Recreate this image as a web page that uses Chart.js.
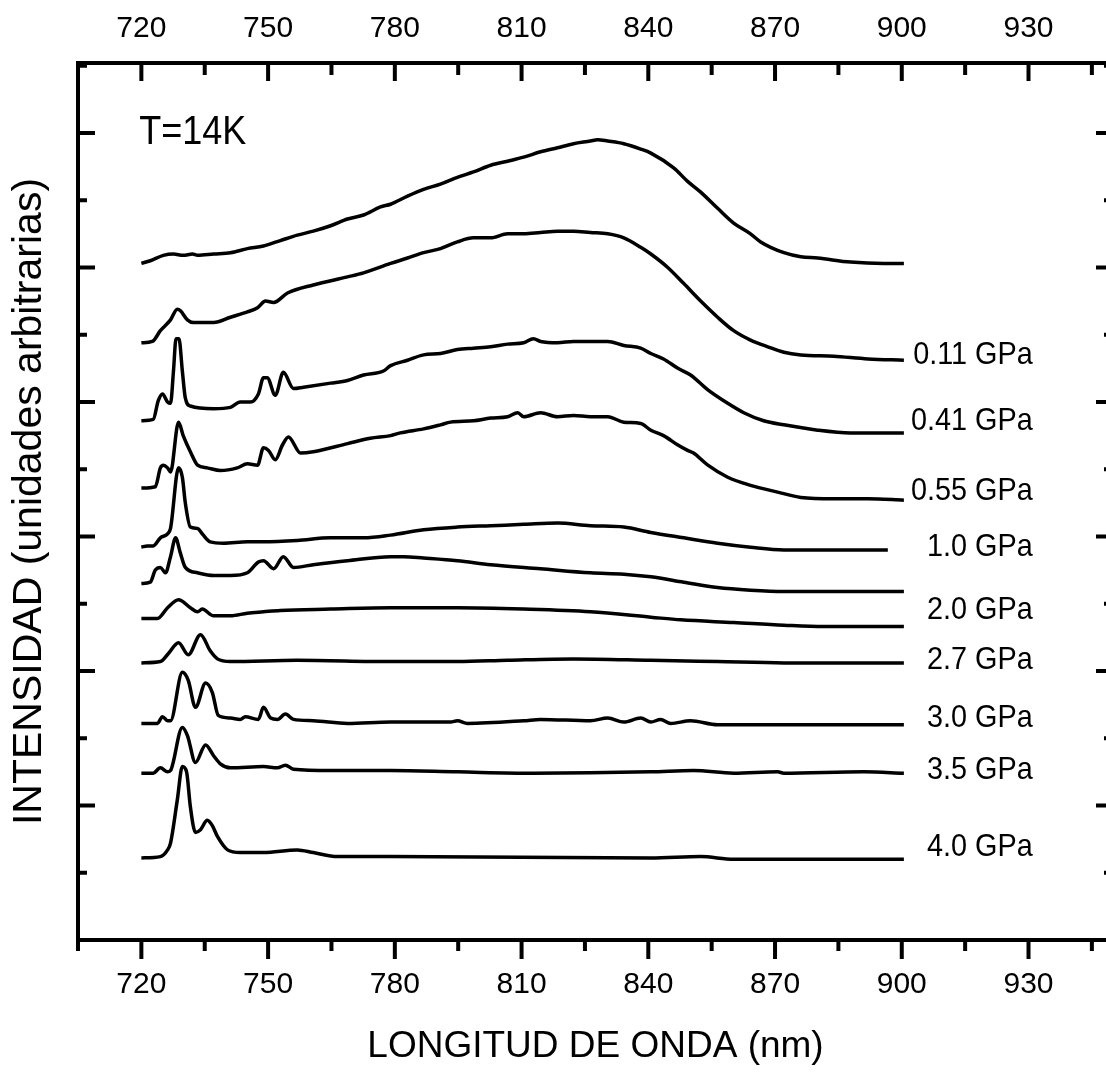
<!DOCTYPE html>
<html>
<head>
<meta charset="utf-8">
<script src="https://cdn.jsdelivr.net/npm/chart.js@4.4.1/dist/chart.umd.min.js"></script>
<style>
  html, body { margin: 0; padding: 0; overflow: hidden; background: #fff; }
  #wrap { width: 1130px; height: 1082px; }
</style>
</head>
<body>
<div id="wrap"><canvas id="spectra"></canvas></div>
<script>
// PL spectra, [wavelength nm, intensity a.u. incl. vertical offset], top trace first
var curve1 = [[720,5.03],[722.1,5.05],[725.2,5.09],[727.6,5.10],[729.9,5.09],[732.1,5.10],[733.3,5.09],[737.1,5.10],[741.1,5.11],[745.1,5.14],[748.9,5.16],[752.9,5.20],[756.9,5.24],[760.7,5.27],[764.8,5.31],[768.8,5.36],[772.6,5.39],[776.6,5.45],[779,5.47],[783,5.53],[786.8,5.58],[790.8,5.62],[794.8,5.67],[798.6,5.71],[802.7,5.76],[806.7,5.79],[810.5,5.82],[814.5,5.86],[818.5,5.89],[822.3,5.92],[826.3,5.94],[828,5.95],[830.4,5.94],[834.2,5.92],[838.2,5.88],[840.6,5.85],[846,5.74],[849.3,5.64],[852.4,5.56],[856.4,5.44],[860.2,5.33],[864.2,5.25],[866.6,5.19],[872.1,5.11],[876.1,5.08],[880.1,5.07],[887.9,5.04],[895.7,5.03],[900.5,5.03]];
var curve2 = [[720,4.44],[722.6,4.45],[724.5,4.53],[726.9,4.61],[728.5,4.69],[729.2,4.68],[730.9,4.61],[732.3,4.59],[737.1,4.59],[741.1,4.63],[745.1,4.67],[747.5,4.70],[749.4,4.75],[751.3,4.74],[754.6,4.81],[760.7,4.87],[768.8,4.93],[772.6,4.96],[779,5.03],[783,5.07],[786.8,5.11],[790.8,5.14],[794.8,5.19],[798.6,5.22],[802.7,5.22],[806.7,5.25],[810.5,5.25],[814.5,5.26],[818.5,5.27],[822.3,5.27],[826.3,5.26],[830.4,5.25],[834.2,5.22],[838.2,5.15],[840.6,5.10],[844.6,5.00],[848.4,4.88],[852.4,4.75],[856.4,4.63],[860.2,4.53],[864.2,4.46],[868.3,4.41],[872.1,4.37],[876.1,4.35],[883.9,4.34],[892,4.32],[900.5,4.31]];
var curve3 = [[720,3.86],[722.8,3.87],[724,4.01],[725,4.06],[726.2,4.00],[726.9,3.99],[727.6,4.23],[728.2,4.47],[728.9,4.47],[729.7,4.23],[730.4,4.03],[731.6,3.97],[737.1,3.95],[741.1,3.96],[743.4,4.00],[745.8,4.00],[747.7,4.06],[748.9,4.18],[749.8,4.18],[751.7,4.05],[753.6,4.22],[756,4.10],[758.4,4.11],[764.8,4.14],[768.8,4.16],[772.6,4.20],[777.3,4.23],[779,4.27],[783,4.31],[786.8,4.35],[790.8,4.36],[794.8,4.39],[798.6,4.40],[802.7,4.41],[806.7,4.43],[810.5,4.44],[812.8,4.47],[814.5,4.45],[818.5,4.44],[822.3,4.45],[826.3,4.45],[830.4,4.45],[834.2,4.42],[838.2,4.40],[840.6,4.36],[843.6,4.32],[847,4.25],[850,4.20],[854.1,4.09],[858.8,3.99],[862.6,3.92],[867.3,3.86],[872.1,3.83],[880.1,3.79],[887.9,3.77],[895.7,3.77],[900.5,3.77]];
var curve4 = [[720,3.36],[723.3,3.37],[724.5,3.51],[725.2,3.53],[726.2,3.51],[726.9,3.48],[728.8,3.85],[729.9,3.75],[731.6,3.63],[733.3,3.53],[735.6,3.51],[738.7,3.49],[742.7,3.51],[745.1,3.54],[747.5,3.53],[748.9,3.66],[750.1,3.64],[751.7,3.57],[753.4,3.68],[754.8,3.74],[757.7,3.62],[760.7,3.63],[768.8,3.69],[774.2,3.73],[779,3.75],[781.3,3.77],[786.8,3.80],[790.8,3.83],[793.2,3.85],[798.6,3.86],[802.7,3.88],[806.7,3.89],[809.1,3.92],[810.5,3.89],[814.5,3.92],[818.5,3.89],[822.3,3.90],[826.3,3.89],[830.4,3.89],[834.2,3.85],[838.2,3.84],[840.6,3.79],[843.6,3.75],[847,3.68],[849.3,3.64],[850.7,3.62],[854.1,3.53],[858.8,3.44],[864.2,3.38],[870.6,3.33],[876.1,3.29],[883.9,3.28],[892,3.28],[900.5,3.27]];
var curve5 = [[720,2.92],[721.4,2.93],[722.8,2.93],[724.5,2.99],[726.2,3.02],[726.9,3.06],[728.8,3.51],[729.7,3.44],[730.4,3.25],[731.6,3.07],[733.3,3.06],[734.4,3.02],[736.3,2.96],[739.4,2.95],[745.1,2.96],[748.9,2.96],[756.9,2.97],[764.8,2.99],[772.6,2.99],[779,3.01],[786.8,3.05],[794.8,3.07],[802.7,3.08],[810.5,3.09],[818.5,3.10],[826.3,3.08],[834.2,3.07],[840.6,3.03],[848.4,2.99],[856.4,2.95],[864.2,2.92],[872.1,2.90],[880.1,2.90],[887.9,2.90],[896.7,2.90]];
var curve6 = [[720,2.65],[722.1,2.66],[723.3,2.75],[724.5,2.77],[725.7,2.73],[726.9,2.85],[728.1,2.99],[729.2,2.88],[730.4,2.77],[733.3,2.73],[737.1,2.71],[741.1,2.71],[745.1,2.73],[747.7,2.81],[748.9,2.82],[751.3,2.76],[753.6,2.85],[756,2.77],[760.7,2.79],[768.8,2.82],[779,2.85],[782.1,2.85],[786.8,2.84],[794.8,2.82],[802.7,2.79],[814.5,2.76],[826.3,2.73],[834.2,2.72],[840.6,2.70],[848.4,2.66],[856.4,2.62],[864.2,2.60],[872.1,2.59],[880.1,2.59],[900.5,2.59]];
var curve7 = [[720,2.39],[723.8,2.39],[726.2,2.47],[728.8,2.53],[731.6,2.47],[733.3,2.44],[734.4,2.46],[737.1,2.41],[741.1,2.41],[745.1,2.43],[748.9,2.44],[752.9,2.45],[764.8,2.46],[779,2.47],[794.8,2.47],[810.5,2.46],[826.3,2.44],[840.6,2.40],[847.7,2.38],[860.2,2.36],[872.1,2.34],[881.5,2.33],[900.5,2.33]];
var curve8 = [[720,2.06],[724.5,2.07],[726.4,2.13],[728.8,2.21],[731.1,2.12],[734,2.27],[736.3,2.15],[738,2.09],[741.1,2.07],[756.9,2.08],[779,2.07],[794.8,2.07],[806.7,2.08],[822.3,2.09],[840.6,2.08],[856.4,2.07],[872.1,2.06],[900.5,2.06]];
var curve9 = [[720,1.61],[723.8,1.61],[725,1.66],[726.2,1.63],[726.9,1.63],[729.7,1.99],[731.1,1.93],[732.8,1.73],[735.2,1.91],[736.8,1.84],[738.2,1.67],[741.1,1.65],[743.4,1.64],[744.6,1.66],[747.7,1.64],[748.9,1.73],[750.6,1.65],[752.2,1.64],[754.1,1.68],[756,1.64],[760.7,1.63],[768.8,1.61],[779,1.62],[793.2,1.62],[794.8,1.63],[797.2,1.61],[810.5,1.63],[814.5,1.64],[826.3,1.63],[830.4,1.65],[834.2,1.62],[838.2,1.65],[840.6,1.62],[842.9,1.64],[845.3,1.61],[850,1.63],[856.4,1.60],[872.1,1.60],[900.5,1.60]];
var curve10 = [[720,1.24],[722.8,1.24],[724.5,1.28],[726.2,1.25],[726.9,1.26],[729.7,1.58],[730.9,1.52],[732.8,1.32],[735.2,1.45],[737.1,1.37],[738.7,1.31],[741.1,1.28],[748.9,1.29],[752.2,1.28],[754.1,1.30],[756,1.27],[764.8,1.26],[779,1.26],[794.8,1.25],[812.8,1.24],[840.6,1.25],[850.7,1.26],[860.2,1.24],[870.6,1.25],[872.1,1.24],[891,1.25],[900.5,1.24]];
var curve11 = [[720,0.61],[724.5,0.62],[726.2,0.67],[726.9,0.72],[728.5,1.04],[729.7,1.29],[730.7,1.25],[731.6,0.99],[732.8,0.80],[734,0.82],[735.6,0.89],[736.8,0.85],[738,0.77],[740.4,0.67],[743.4,0.65],[748.9,0.65],[756.9,0.67],[760.7,0.65],[766.4,0.62],[779,0.62],[840.6,0.61],[852.4,0.62],[860.2,0.60],[900.5,0.60]];

var pressureLabels = ["0.11 GPa", "0.41 GPa", "0.55 GPa", "1.0 GPa", "2.0 GPa", "2.7 GPa", "3.0 GPa", "3.5 GPa", "4.0 GPa"];
var labelLevels = [4.35, 3.86, 3.34, 2.92, 2.45, 2.08, 1.65, 1.26, 0.69];
var xTicks = [720, 750, 780, 810, 840, 870, 900, 930];

var curves = [curve1, curve2, curve3, curve4, curve5, curve6, curve7, curve8, curve9, curve10, curve11];
var FONT = "'Liberation Sans', Arial, sans-serif";

Chart.defaults.font.family = FONT;
Chart.defaults.color = "#000";

function fixedTicks(scale) {
  scale.ticks = xTicks.map(function (v) { return { value: v }; });
}

// slightly narrowed text, like the original plotting program's font
function narrowText(ctx, text, x, y, size, align) {
  ctx.save();
  ctx.font = size + "px " + FONT;
  ctx.textAlign = align;
  ctx.textBaseline = "middle";
  ctx.translate(x, y);
  ctx.scale(0.9, 1);
  ctx.fillText(text, 0, 0);
  ctx.restore();
}

// box, inward/outward tick marks and text annotations
var frame = {
  id: "frame",
  afterDraw: function (chart) {
    var ctx = chart.ctx, a = chart.chartArea;
    var xs = chart.scales.x, ys = chart.scales.y;
    ctx.save();
    ctx.strokeStyle = "#000";
    ctx.lineWidth = 4;
    ctx.strokeRect(a.left, a.top, a.right - a.left, a.bottom - a.top);
    ctx.beginPath();
    for (var v = 705; v <= 950; v += 15) {
      var px = xs.getPixelForValue(v);
      var major = (v - 720) % 30 === 0;
      ctx.moveTo(px, a.bottom); ctx.lineTo(px, a.bottom + (major ? 19 : 11));
      ctx.moveTo(px, a.top); ctx.lineTo(px, a.top + (major ? 18 : 12));
    }
    for (var w = 0.5; w <= 6.5; w += 0.5) {
      var py = ys.getPixelForValue(w);
      var len = w % 1 === 0 ? 17 : 9;
      ctx.moveTo(a.left, py); ctx.lineTo(a.left + len, py);
      ctx.moveTo(a.right, py); ctx.lineTo(a.right - len, py);
    }
    ctx.stroke();
    ctx.fillStyle = "#000";
    narrowText(ctx, "T=14K", xs.getPixelForValue(719.5), ys.getPixelForValue(6.0), 40, "left");
    pressureLabels.forEach(function (t, i) {
      narrowText(ctx, t, xs.getPixelForValue(931), ys.getPixelForValue(labelLevels[i]), 32, "right");
    });
    ctx.restore();
  }
};

new Chart(document.getElementById("spectra"), {
  type: "line",
  data: {
    datasets: curves.map(function (c) {
      return {
        data: c.map(function (p) { return { x: p[0], y: p[1] }; }),
        borderColor: "#000",
        borderWidth: 3.5,
        pointRadius: 0,
        cubicInterpolationMode: "monotone",
        fill: false
      };
    })
  },
  options: {
    responsive: true,
    maintainAspectRatio: false,
    animation: false,
    plugins: { legend: { display: false }, tooltip: { enabled: false } },
    scales: {
      x: {
        type: "linear", position: "bottom", min: 705, max: 950,
        afterBuildTicks: fixedTicks,
        afterFit: function (s) { s.height = 142; },
        grid: { display: false, drawTicks: false },
        border: { display: false },
        ticks: { font: { size: 30 }, padding: 27, maxRotation: 0, autoSkip: false },
        title: { display: true, text: "LONGITUD DE ONDA (nm)", font: { size: 37 }, padding: { top: 0, bottom: 13 } }
      },
      xTop: {
        type: "linear", position: "top", min: 705, max: 950,
        afterBuildTicks: fixedTicks,
        afterFit: function (s) { s.height = 63; },
        grid: { display: false, drawTicks: false },
        border: { display: false },
        ticks: { font: { size: 30 }, padding: 16, maxRotation: 0, autoSkip: false }
      },
      y: {
        type: "linear", position: "left", min: 0, max: 6.52,
        afterFit: function (s) { s.width = 78; },
        grid: { display: false, drawTicks: false },
        border: { display: false },
        ticks: { display: false },
        title: { display: true, text: "INTENSIDAD (unidades arbitrarias)", font: { size: 41 }, padding: { top: 5, bottom: 0 } }
      },
      yRight: {
        type: "linear", position: "right", min: 0, max: 6.52,
        afterFit: function (s) { s.width = 17; },
        grid: { display: false, drawTicks: false },
        border: { display: false },
        ticks: { display: false }
      }
    }
  },
  plugins: [frame]
});
</script>
</body>
</html>
